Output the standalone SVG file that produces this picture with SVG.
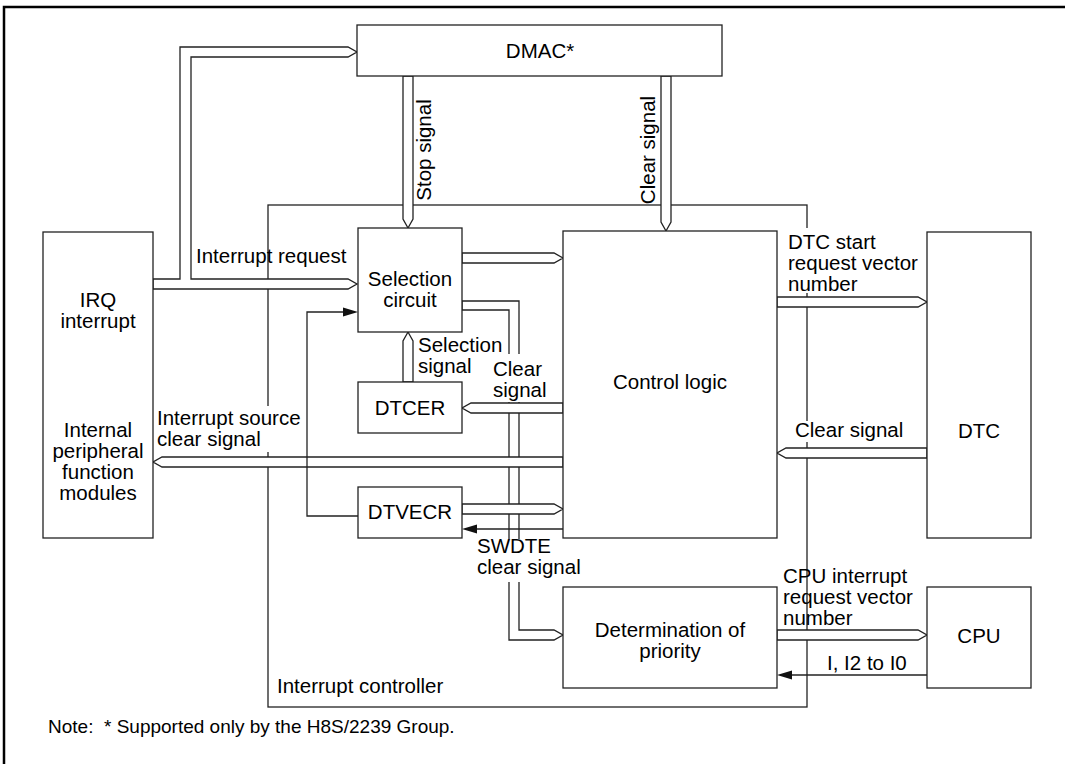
<svg xmlns="http://www.w3.org/2000/svg" width="1065" height="764" viewBox="0 0 1065 764">
<style>
  .box{fill:#fff;stroke:#222;stroke-width:1.3}
  .ln{fill:none;stroke:#222;stroke-width:1.3}
  .bus{fill:#fff;stroke:#222;stroke-width:1.3;stroke-linejoin:miter}
  .fa{fill:#111;stroke:none}
  .bg{fill:#fff;stroke:none}
  text{font-family:"Liberation Sans",Arial,sans-serif;font-size:20.5px;fill:#000}
  .c{text-anchor:middle}
  .note{font-size:19px}
</style>
<rect width="1065" height="764" fill="#fff"/>
<!-- outer frame -->
<path d="M4,764 V7 H1065" fill="none" stroke="#000" stroke-width="2.5"/>

<!-- interrupt controller boundary -->
<g id="interrupt-controller">
  <rect class="ln" x="268" y="205" width="539" height="502"/>
  <text x="277" y="693">Interrupt controller</text>
</g>

<g id="connectors">
  <!-- IRQ bus to DMAC and selection circuit -->
  <path class="bus" d="M153,279 H180 V47 H348 L357,52 L348,57 H191 V279 H348 L357,284 L348,289 H153 Z"/>
  <!-- stop signal -->
  <path class="bus" d="M403,76 H413 V219 L408,228 L403,219 Z"/>
  <!-- clear signal from DMAC -->
  <path class="bus" d="M661,76 H671 V222 L666,231 L661,222 Z"/>
  <!-- selection circuit to control logic -->
  <path class="bus" d="M462,253 H554 L563,258 L554,263 H462 Z"/>
  <!-- selection circuit to determination of priority -->
  <path class="bus" d="M462,301 H519 V630 H554 L563,635 L554,640 H509 V310 H462 Z"/>
  <!-- selection signal -->
  <path class="bus" d="M403,382 V341 L408,332 L413,341 V382 Z"/>
  <!-- clear signal to DTCER -->
  <path class="bus" d="M563,403 H471 L462,408 L471,413 H563 Z"/>
  <!-- interrupt source clear signal -->
  <path class="bus" d="M563,457 H162 L153,462 L162,467 H563 Z"/>
  <!-- DTVECR to control logic -->
  <path class="bus" d="M462,504 H554 L563,509 L554,514 H462 Z"/>
  <!-- SWDTE clear signal -->
  <path class="ln" d="M563,529 H476"/>
  <path class="fa" d="M462,529 L477,524.5 L477,533.5 Z"/>
  <!-- DTVECR feedback to selection circuit -->
  <path class="ln" d="M358,516 H307 V312 H344"/>
  <path class="fa" d="M358,312 L343,307.5 L343,316.5 Z"/>
  <!-- DTC start request vector number -->
  <path class="bus" d="M777,297 H918 L927,302 L918,307 H777 Z"/>
  <!-- clear signal from DTC -->
  <path class="bus" d="M927,448 H786 L777,453 L786,458 H927 Z"/>
  <!-- CPU interrupt request vector number -->
  <path class="bus" d="M777,630 H918 L927,635 L918,640 H777 Z"/>
  <!-- I, I2 to I0 -->
  <path class="ln" d="M927,675 H790"/>
  <path class="fa" d="M777,675 L792,670.5 L792,679.5 Z"/>
</g>

<g id="dmac">
  <rect class="box" x="357" y="25" width="365" height="51"/>
  <text class="c" x="540" y="58">DMAC*</text>
</g>
<g id="irq">
  <rect class="box" x="43" y="232" width="110" height="306"/>
  <text class="c" x="98" y="307">IRQ</text>
  <text class="c" x="98" y="328">interrupt</text>
  <text class="c" x="98" y="437">Internal</text>
  <text class="c" x="98" y="458">peripheral</text>
  <text class="c" x="98" y="479">function</text>
  <text class="c" x="98" y="500">modules</text>
</g>
<g id="selection-circuit">
  <rect class="box" x="358" y="228" width="104" height="104"/>
  <text class="c" x="410" y="286">Selection</text>
  <text class="c" x="410" y="307">circuit</text>
</g>
<g id="dtcer">
  <rect class="box" x="358" y="382" width="104" height="51"/>
  <text class="c" x="410" y="415">DTCER</text>
</g>
<g id="dtvecr">
  <rect class="box" x="358" y="487" width="104" height="51"/>
  <text class="c" x="410" y="519">DTVECR</text>
</g>
<g id="control-logic">
  <rect class="box" x="563" y="231" width="214" height="307"/>
  <text class="c" x="670" y="389">Control logic</text>
</g>
<g id="determination-of-priority">
  <rect class="box" x="563" y="587" width="214" height="101"/>
  <text class="c" x="670" y="637">Determination of</text>
  <text class="c" x="670" y="658">priority</text>
</g>
<g id="dtc">
  <rect class="box" x="927" y="232" width="104" height="306"/>
  <text class="c" x="979" y="438">DTC</text>
</g>
<g id="cpu">
  <rect class="box" x="927" y="587" width="104" height="101"/>
  <text class="c" x="979" y="643">CPU</text>
</g>

<g id="labels">
  <rect class="bg" x="157" y="406" width="147" height="46"/>
  <rect class="bg" x="490" y="354" width="66" height="48"/>
  <rect class="bg" x="475" y="539" width="110" height="43"/>
  <rect class="bg" x="786" y="228" width="138" height="65"/>
  <rect class="bg" x="793" y="421" width="114" height="21"/>
  <text transform="translate(431,150) rotate(-90)" class="c">Stop signal</text>
  <text transform="translate(655,150) rotate(-90)" class="c">Clear signal</text>
  <text x="196" y="263">Interrupt request</text>
  <text x="418" y="352">Selection</text>
  <text x="418" y="373">signal</text>
  <text x="493" y="376">Clear</text>
  <text x="493" y="397">signal</text>
  <text x="157" y="425">Interrupt source</text>
  <text x="157" y="446">clear signal</text>
  <text x="477" y="553">SWDTE</text>
  <text x="477" y="574">clear signal</text>
  <text x="788" y="249">DTC start</text>
  <text x="788" y="270">request vector</text>
  <text x="788" y="291">number</text>
  <text x="795" y="437">Clear signal</text>
  <text x="783" y="583">CPU interrupt</text>
  <text x="783" y="604">request vector</text>
  <text x="783" y="625">number</text>
  <text x="827" y="670">I, I2 to I0</text>
  <text class="note" x="48" y="733">Note:&#160; * Supported only by the H8S/2239 Group.</text>
</g>
</svg>
